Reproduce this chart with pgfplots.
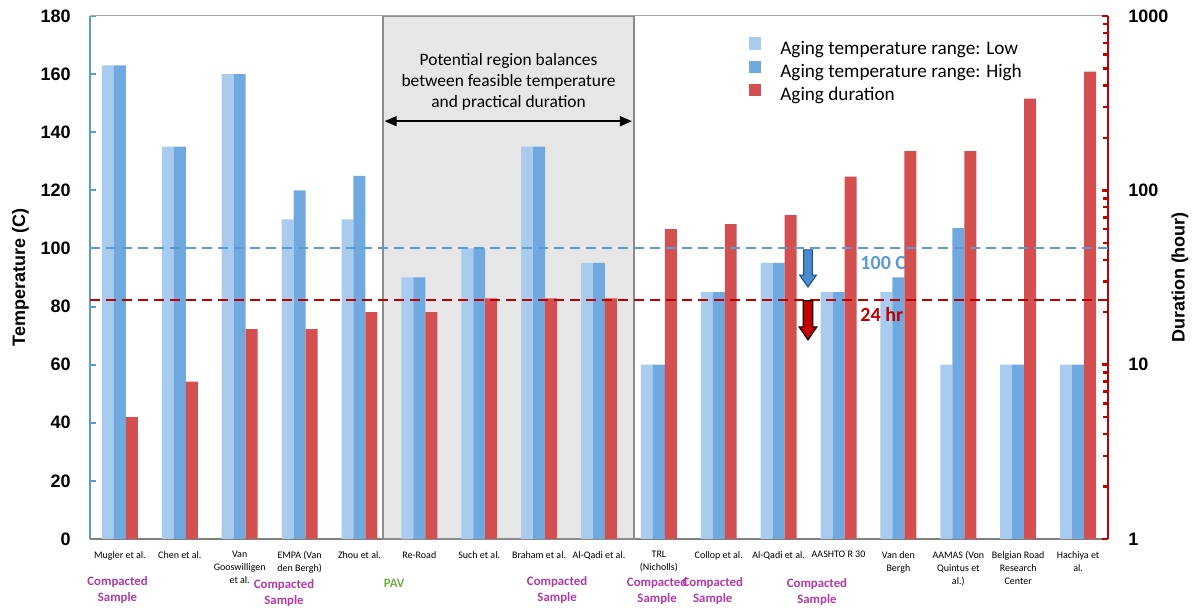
\documentclass[border=0pt]{standalone}
\usepackage{pgfplots}
\pgfplotsset{compat=1.18}
\usepackage{pgfplotstable}
\usetikzlibrary{arrows.meta}
\usepackage{fontspec}
\setmainfont{Carlito}
\newfontfamily\lsans{Liberation Sans}
\definecolor{lowc}{HTML}{A9CBEE}
\definecolor{highc}{HTML}{70A9E0}
\definecolor{durc}{HTML}{D44F4F}
\definecolor{axblue}{HTML}{5B9BD5}
\definecolor{axred}{HTML}{C00000}
\definecolor{mag}{HTML}{B23AA8}
\definecolor{pavg}{HTML}{70AD47}
\definecolor{boxg}{HTML}{E6E6E6}
\definecolor{boxb}{HTML}{8C8C8C}
\definecolor{topg}{HTML}{A6A6A6}
\definecolor{arrb}{HTML}{4A8BD0}
\definecolor{arrbd}{HTML}{1F4E79}

\pgfplotstableread{
x low high dur
0 163 163 5
1 135 135 8
2 160 160 16
3 110 120 16
4 110 125 20
5 90 90 20
6 100 100 24
7 135 135 24
8 95 95 24
9 60 60 60
10 85 85 64
11 95 95 72
12 85 85 120
13 85 90 168
14 60 107 168
15 60 60 336
16 60 60 480
}\data

\pgfplotsset{
  sq legend/.style={legend image code/.code={\fill[##1] (0pt,0pt) rectangle (6.2pt,6.2pt);}},
  base/.style={at={(0,0)}, anchor=south west, scale only axis,
    width=509pt, height=261.5pt, xmin=-0.5, xmax=16.5, clip=false}
}
\tikzset{
  mlab/.style={align=center, font=\bfseries\fontsize{6.4}{8}\selectfont, text=mag, inner sep=0pt},
  tickf/.style={font=\lsans\bfseries\fontsize{9}{10}\selectfont}
}

\begin{document}
\begin{tikzpicture}
\useasboundingbox (-45pt,-35pt) rectangle (554pt,269.5pt);
\begin{axis}[base,
  ymin=0, ymax=180,
  axis y line*=left, axis x line*=bottom,
  y axis line style={axblue, line width=1pt},
  x axis line style={gray, line width=1pt},
  xtick={0,...,16}, xtick style={draw=none},
  xticklabels={Mugler et al., Chen et al., {Van\\Gooswilligen\\et al.}, {EMPA (Van\\den Bergh)}, Zhou et al., Re-Road, Such et al., Braham et al., Al-Qadi et al., {TRL\\(Nicholls)}, Collop et al., Al-Qadi et al., AASHTO R 30, {Van den\\Bergh}, {AAMAS (Von\\Quintus et\\al.)}, {Belgian Road\\Research\\Center}, {Hachiya et\\al.}},
  xticklabel style={font=\fontsize{5}{6.5}\selectfont, align=center, inner sep=0pt, anchor=north, yshift=-6pt},
  ytick={0,20,...,180},
  ytick style={axblue, line width=1pt},
  major tick length=3pt,
  yticklabel style={tickf, inner sep=0pt, xshift=-9.5pt},
  /pgf/number format/assume math mode=true,
  ylabel={Temperature (C)},
  ylabel style={tickf, at={(axis description cs:-0.0683,0.5)}, anchor=center},
  legend style={draw=none, fill=none, at={(0.641,0.9675)}, anchor=north west,
    font=\fontsize{9.6}{10}\selectfont, row sep=1.2pt,
    /tikz/every odd column/.append style={column sep=8.5pt},
    nodes={inner xsep=1pt, inner ysep=0pt, text height=6.5pt, text depth=2pt}},
  legend cell align=left,
]
\filldraw[fill=boxg, draw=boxb, line width=0.9pt] (axis cs:4.39,0) rectangle (axis cs:8.58,180);
\draw[topg, line width=0.5pt] (axis cs:-0.5,180) -- (axis cs:16.5,180);
\node[align=center, font=\fontsize{8.7}{10.5}\selectfont] at (axis cs:6.49,157.5) {Potential region balances\\between feasible temperature\\and practical duration};
\draw[{Triangle[length=6pt,width=5pt]}-{Triangle[length=6pt,width=5pt]}, line width=0.75pt] (axis cs:4.42,143.8) -- (axis cs:8.55,143.8);
\addplot[ybar, bar width=0.2, bar shift=-0.2, fill=lowc, draw=none, sq legend] table[x=x, y=low] {\data};
\addlegendentry{Aging temperature range: Low}
\addplot[ybar, bar width=0.2, bar shift=0, fill=highc, draw=none, sq legend] table[x=x, y=high] {\data};
\addlegendentry{Aging temperature range: High}
\addlegendimage{fill=durc, draw=none, sq legend}
\addlegendentry{Aging duration}
\node[mlab] at (axis cs:-0.04,0) [yshift=-25.5pt] {Compacted\\Sample};
\node[mlab] at (axis cs:2.74,0) [yshift=-27.25pt] {Compacted\\Sample};
\node[mlab, text=pavg] at (axis cs:4.58,0) [yshift=-22pt] {PAV};
\node[mlab] at (axis cs:7.3,0) [yshift=-25.5pt] {Compacted\\Sample};
\node[mlab] at (axis cs:8.97,0) [yshift=-26pt] {Compacted\\Sample};
\node[mlab] at (axis cs:9.9,0) [yshift=-26pt] {Compacted\\Sample};
\node[mlab] at (axis cs:11.64,0) [yshift=-26.75pt] {Compacted\\Sample};
\end{axis}

\begin{axis}[base,
  ymode=log, ymin=1, ymax=1000,
  axis y line*=right, axis x line=none,
  xtick=\empty,
  ytick={1,10,100,1000},
  log ticks with fixed point,
  /pgf/number format/assume math mode=true,
  /pgf/number format/1000 sep={},
  y axis line style={axred, line width=1.2pt},
  tick style={axred, line width=1.2pt},
  major tick length=3pt, minor tick length=2.5pt,
  yticklabel style={tickf, inner sep=0pt, xshift=10pt},
  ylabel={Duration (hour)},
  ylabel style={tickf, at={(axis description cs:1.0707,0.5)}, anchor=center},
]
\addplot[ybar, bar width=0.2, bar shift=0.2, fill=durc, draw=none] table[x=x, y=dur] {\data};
\end{axis}

\begin{axis}[base, ymin=0, ymax=180, hide axis]
\draw[axblue, line width=1pt, dash pattern=on 5pt off 3pt] (axis cs:-0.5,100) -- (axis cs:16.5,100);
\draw[axred, line width=1.2pt, dash pattern=on 5pt off 3pt] (axis cs:-0.5,82.3) -- (axis cs:16.5,82.3);
\filldraw[fill=arrb, draw=arrbd, line width=0.5pt]
  (axis cs:11.417,99.5) -- (axis cs:11.563,99.5) -- (axis cs:11.563,90.8) -- (axis cs:11.63,90.8)
  -- (axis cs:11.49,86.7) -- (axis cs:11.35,90.8) -- (axis cs:11.417,90.8) -- cycle;
\filldraw[fill=axred, draw=black, line width=0.5pt]
  (axis cs:11.41,82.0) -- (axis cs:11.57,82.0) -- (axis cs:11.57,73) -- (axis cs:11.64,73)
  -- (axis cs:11.49,68.5) -- (axis cs:11.34,73) -- (axis cs:11.41,73) -- cycle;
\node[anchor=west, font=\bfseries\fontsize{10}{12}\selectfont, text=axblue, inner sep=0pt] at (axis cs:12.36,95) {100 C};
\node[anchor=west, font=\bfseries\fontsize{10}{12}\selectfont, text=axred, inner sep=0pt] at (axis cs:12.36,77.4) {24 hr};
\end{axis}
\end{tikzpicture}
\end{document}
